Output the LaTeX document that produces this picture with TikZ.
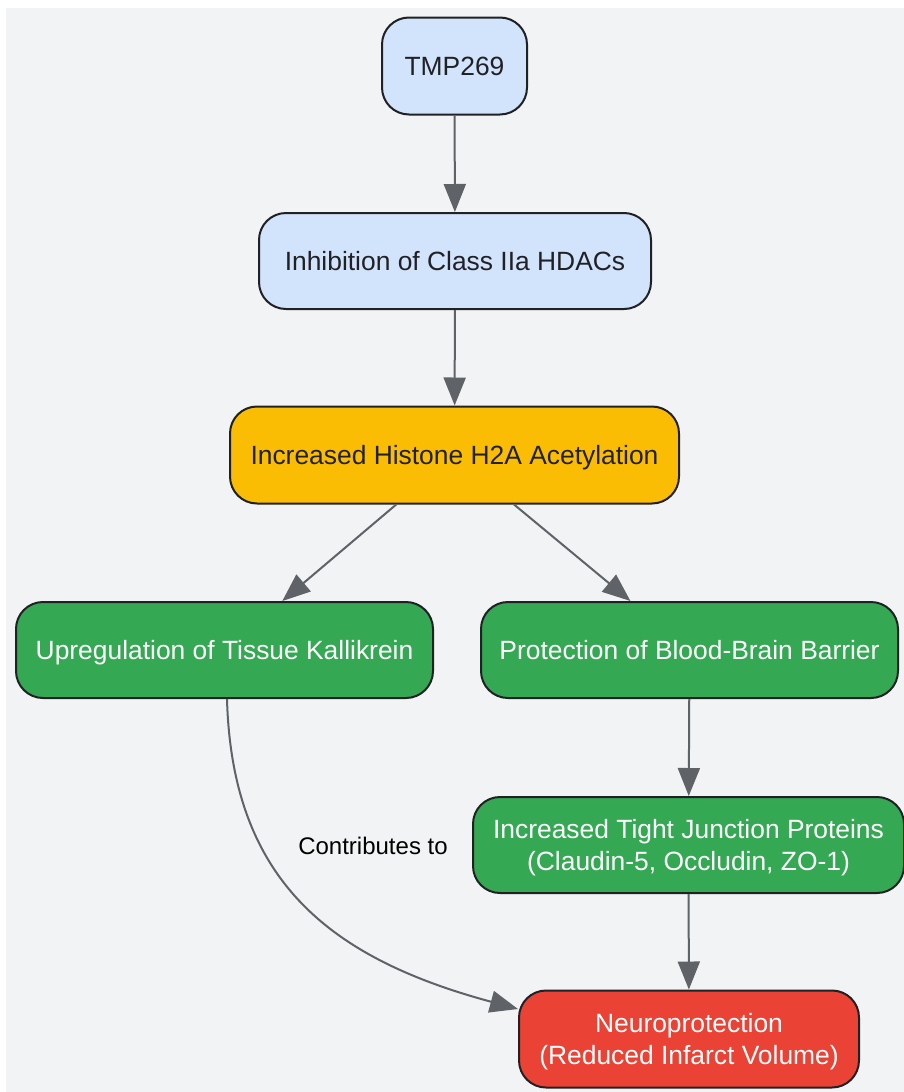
\documentclass[tikz,border=0pt]{standalone}
\usepackage{fontspec}
\setmainfont{Liberation Sans}
\usetikzlibrary{arrows.meta,calc}
\definecolor{bgc}{HTML}{F1F3F4}
\definecolor{bluec}{HTML}{D2E3FC}
\definecolor{yelc}{HTML}{FBBC04}
\definecolor{grnc}{HTML}{34A853}
\definecolor{redc}{HTML}{EA4335}
\definecolor{bordc}{HTML}{202124}
\definecolor{edgec}{HTML}{5F6368}
\definecolor{txtc}{HTML}{202124}
\begin{document}
\begin{tikzpicture}[x=1pt,y=-1pt,
  box/.style={draw=bordc, line width=2pt, rounded corners=27pt, align=center,
    font=\fontsize{26.4}{32}\selectfont, inner sep=0pt, minimum height=96pt,
    text height=19pt, text depth=0pt},
  twoline/.style={text height=51pt},
  lightbox/.style={box, fill=bluec, text=txtc},
  yelbox/.style={box, fill=yelc, text=txtc},
  grnbox/.style={box, fill=grnc, text=white},
  redbox/.style={box, fill=redc, text=white},
  conn/.style={draw=edgec, line width=2pt, -{Triangle[length=28pt,width=22pt]}},
  lbl/.style={font=\fontsize{24}{28}\selectfont, text=black, inner sep=0pt}
]
\useasboundingbox (0,0) rectangle (904,1092);
\fill[white] (0,0) rectangle (904,1092);
\fill[bgc] (6,8) rectangle (904,1092);

\node[lightbox, minimum width=145pt, minimum height=97pt] (tmp) at (454.5,66) {TMP269};
\node[lightbox, minimum width=392pt] (inh) at (455,261) {Inhibition of Class IIa HDACs};
\node[yelbox, minimum width=449pt, minimum height=97pt] (his) at (454.5,455) {Increased Histone H2A Acetylation};
\node[grnbox, minimum width=417pt] (upr) at (224.5,650) {Upregulation of Tissue Kallikrein};
\node[grnbox, minimum width=417pt] (bbb) at (689.5,650) {Protection of Blood-Brain Barrier};
\node[grnbox, twoline, minimum width=431pt] (tjp) at (688.5,845) {Increased Tight Junction Proteins\\(Claudin-5, Occludin, ZO-1)};
\node[redbox, twoline, minimum width=340pt, minimum height=97pt] (neu) at (689,1039) {Neuroprotection\\(Reduced Infarct Volume)};

\node[lbl] (ct) at (373,846) {Contributes to};

\draw[conn] (tmp) -- (inh);
\draw[conn] (inh) -- (his);
\draw[conn] (his) -- (upr);
\draw[conn] (his) -- (bbb);
\draw[conn] (bbb) -- (tjp);
\draw[conn] (tjp) -- (neu);
\coordinate (cend) at ($(neu.north west)+(0,19.5)$);
\draw[conn] ($(upr.south)+(2.5,0)$) .. controls (232,880) and (329,958) .. (cend);
\end{tikzpicture}
\end{document}
